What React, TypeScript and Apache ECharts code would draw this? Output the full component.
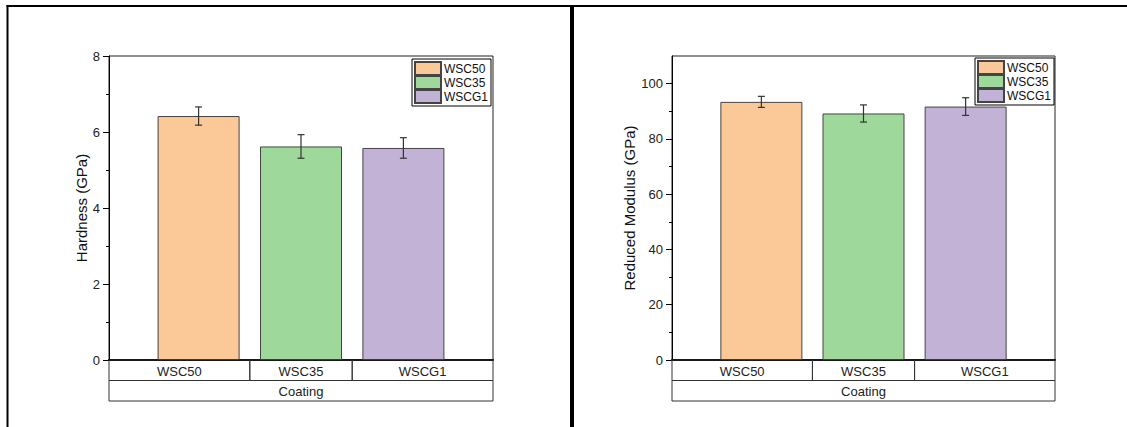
import React, { useEffect, useRef } from "react";
import * as echarts from "echarts";

// ---- data ----
const categories = ["WSC50", "WSC35", "WSCG1"];
const groupLabel = "Coating";
const hardness = [6.42, 5.62, 5.58];
const hardnessErr = [0.24, 0.31, 0.27];
const modulus = [93.4, 89.2, 91.7];
const modulusErr = [2.0, 3.1, 3.2];
const hardnessTicks = [0, 2, 4, 6, 8];
const hardnessMinorTicks = [1, 3, 5, 7];
const modulusTicks = [0, 20, 40, 60, 80, 100];
const modulusMinorTicks = [10, 30, 50, 70, 90];

// ---- styles ----
const colors = ["#FBC898", "#9ED99B", "#C2B2D6"];
const FONT = "'Liberation Sans', Arial, sans-serif";
const X_MIN = 0.125;
const X_MAX = 3.875;
const ROW_H = 20.5;

const panels = [
  {
    values: hardness,
    errs: hardnessErr,
    ticks: hardnessTicks,
    minor: hardnessMinorTicks,
    yMax: 8,
    name: "Hardness (GPa)",
    nameGap: 19,
    grid: { left: 109, top: 56, width: 384, height: 304 },
    legend: { left: 412, top: 59 },
  },
  {
    values: modulus,
    errs: modulusErr,
    ticks: modulusTicks,
    minor: modulusMinorTicks,
    yMax: 110,
    name: "Reduced Modulus (GPa)",
    nameGap: 35,
    grid: { left: 672, top: 56, width: 383, height: 304 },
    legend: { left: 975, top: 58 },
  },
];

function buildOption() {
  const grid: any[] = [];
  const xAxis: any[] = [];
  const yAxis: any[] = [];
  const series: any[] = [];
  const legend: any[] = [];
  const n = categories.length;

  panels.forEach((p, k) => {
    grid.push({
      ...p.grid,
      show: true,
      borderColor: "#222",
      borderWidth: 1,
      backgroundColor: "transparent",
    });
    xAxis.push({
      gridIndex: k,
      type: "value",
      min: X_MIN,
      max: X_MAX,
      axisLine: { show: true, onZero: false, lineStyle: { color: "#000", width: 2 } },
      axisTick: { show: false },
      axisLabel: { show: false },
      splitLine: { show: false },
    });
    yAxis.push({
      gridIndex: k,
      type: "value",
      position: "left",
      min: 0,
      max: p.yMax,
      interval: p.ticks[1] - p.ticks[0],
      name: p.name,
      nameLocation: "middle",
      nameGap: p.nameGap,
      nameTextStyle: { fontSize: 15, color: "#111", fontFamily: FONT },
      axisLine: { show: true, lineStyle: { color: "#000", width: 1 } },
      axisTick: { show: true, length: 6, customValues: p.ticks, lineStyle: { color: "#000" } },
      axisLabel: { customValues: p.ticks, fontSize: 13, color: "#222", margin: 9, fontFamily: FONT },
      splitLine: { show: false },
    });
    yAxis.push({
      gridIndex: k,
      type: "value",
      position: "left",
      min: 0,
      max: p.yMax,
      axisLine: { show: false },
      axisTick: { show: true, length: 3, customValues: p.minor, lineStyle: { color: "#000" } },
      axisLabel: { show: false },
      splitLine: { show: false },
    });

    categories.forEach((c, i) => {
      series.push({
        type: "bar",
        name: c,
        xAxisIndex: k,
        yAxisIndex: 2 * k,
        data: [[i + 1, p.values[i]]],
        barWidth: 82,
        barGap: "-100%",
        itemStyle: { color: colors[i], borderColor: "#444", borderWidth: 1 },
        z: 2,
      });
    });

    // error bars
    series.push({
      type: "custom",
      xAxisIndex: k,
      yAxisIndex: 2 * k,
      silent: true,
      z: 5,
      data: p.values.map((v, i) => [i + 1, v, p.errs[i]]),
      encode: { x: 0, y: 1 },
      renderItem: (params: any, api: any) => {
        const x = api.value(0);
        const y = api.value(1);
        const e = api.value(2);
        const top = api.coord([x, y + e]);
        const bot = api.coord([x, y - e]);
        const hw = 3.5;
        const style = { stroke: "#333", lineWidth: 1.2 };
        return {
          type: "group",
          children: [
            { type: "line", shape: { x1: top[0], y1: top[1], x2: bot[0], y2: bot[1] }, style },
            { type: "line", shape: { x1: top[0] - hw, y1: top[1], x2: top[0] + hw, y2: top[1] }, style },
            { type: "line", shape: { x1: bot[0] - hw, y1: bot[1], x2: bot[0] + hw, y2: bot[1] }, style },
          ],
        };
      },
    });

    // category table row
    series.push({
      type: "custom",
      xAxisIndex: k,
      yAxisIndex: 2 * k,
      silent: true,
      clip: false,
      z: 4,
      data: categories.map((c, i) => [i + 1, 0]),
      renderItem: (params: any, api: any) => {
        const i = api.value(0);
        const idx = params.dataIndex;
        const l = api.coord([idx === 0 ? X_MIN : i - 0.5, 0]);
        const r = api.coord([idx === n - 1 ? X_MAX : i + 0.5, 0]);
        return {
          type: "group",
          children: [
            {
              type: "rect",
              shape: { x: l[0], y: l[1], width: r[0] - l[0], height: ROW_H },
              style: { fill: "none", stroke: "#333", lineWidth: 1 },
            },
            {
              type: "text",
              style: {
                text: categories[idx],
                x: (l[0] + r[0]) / 2,
                y: l[1] + ROW_H / 2 + 1,
                align: "center",
                verticalAlign: "middle",
                fontSize: 13,
                fontFamily: FONT,
                fill: "#222",
              },
            },
          ],
        };
      },
    });

    // group row
    series.push({
      type: "custom",
      xAxisIndex: k,
      yAxisIndex: 2 * k,
      silent: true,
      clip: false,
      z: 4,
      data: [[(X_MIN + X_MAX) / 2, 0]],
      renderItem: (params: any, api: any) => {
        const l = api.coord([X_MIN, 0]);
        const r = api.coord([X_MAX, 0]);
        return {
          type: "group",
          children: [
            {
              type: "rect",
              shape: { x: l[0], y: l[1] + ROW_H, width: r[0] - l[0], height: ROW_H },
              style: { fill: "none", stroke: "#333", lineWidth: 1 },
            },
            {
              type: "text",
              style: {
                text: groupLabel,
                x: (l[0] + r[0]) / 2,
                y: l[1] + ROW_H * 1.5 + 1,
                align: "center",
                verticalAlign: "middle",
                fontSize: 13,
                fontFamily: FONT,
                fill: "#222",
              },
            },
          ],
        };
      },
    });

    legend.push({
      ...p.legend,
      orient: "vertical",
      data: categories,
      icon: "rect",
      itemWidth: 26,
      itemHeight: 13,
      itemGap: -1,
      padding: [2, 3, 2, 2],
      borderColor: "#000",
      borderWidth: 1,
      selectedMode: false,
      textStyle: {
        fontSize: 12,
        lineHeight: 13,
        color: "#111",
        fontFamily: FONT,
        padding: [0, 0, 0, -2],
      },
    });
  });

  return {
    animation: false,
    backgroundColor: "#fff",
    textStyle: { fontFamily: FONT },
    grid,
    xAxis,
    yAxis,
    series,
    legend,
    graphic: [
      { type: "line", shape: { x1: 6.5, y1: 6, x2: 1127, y2: 6 }, style: { stroke: "#000", lineWidth: 2 } },
      { type: "line", shape: { x1: 7.5, y1: 5, x2: 7.5, y2: 427 }, style: { stroke: "#000", lineWidth: 2 } },
      { type: "line", shape: { x1: 572, y1: 5, x2: 572, y2: 427 }, style: { stroke: "#000", lineWidth: 4 } },
    ],
  };
}

export default function App() {
  const ref = useRef<HTMLDivElement>(null);
  useEffect(() => {
    if (!ref.current) return;
    const chart = echarts.init(ref.current, undefined, { renderer: "svg" });
    chart.setOption(buildOption() as any);
    return () => chart.dispose();
  }, []);
  return (
    <div
      ref={ref}
      style={{ position: "fixed", left: 0, top: 0, width: 1127, height: 427 }}
    />
  );
}
